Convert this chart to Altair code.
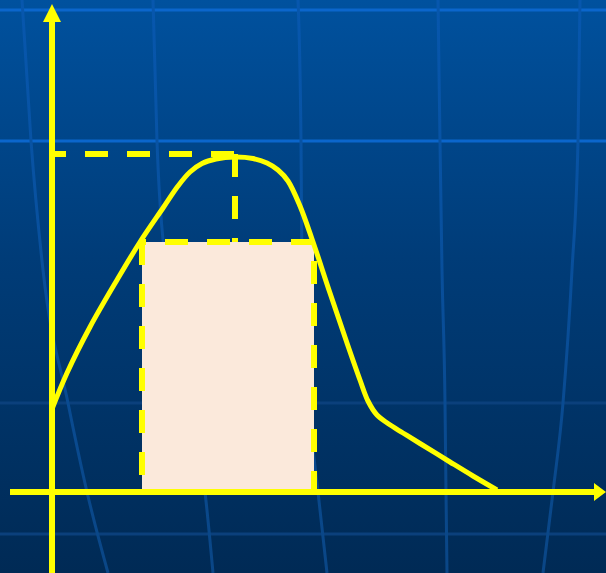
import altair as alt
import pandas as pd

W, H = 606, 573

# Data frame extents (origin where the two axes cross)
X_DOMAIN = [-52, 554]
Y_DOMAIN = [-81, 492]

# Response curve
curve_x = [0, 15, 38, 65, 88, 111, 126, 138, 150, 164, 183, 201, 215, 226, 236, 248,
           260, 278, 295, 308, 316, 325, 336, 351, 368, 398, 421, 445]
curve_y = [83, 119, 165, 212, 250, 284, 306, 320, 328.5, 333, 335, 333.5, 329, 322, 311, 286,
           253, 199, 149, 112, 91, 77, 68.5, 59, 48.5, 30, 16, 2]

# Peak marker and the shaded block under the curve
peak_x, peak_y = 183, 338
block_x0, block_x1 = 90, 262
block_top = 250

# Axis extents
x_axis_from, x_axis_to = -42, 542
y_axis_from, y_axis_to = -81, 470
x_arrow_at = 548
y_arrow_at = 479

# Backdrop grid
grid_rows_bright = [482, 351]
grid_rows_dim = [89, -42]
grid_col_levels = [492, 351, 222, 89, 0, -81]
grid_cols = {
    "a": [-30, -21, -9, 16, 35, 56],
    "b": [101, 105, 114, 136, 153, 161],
    "c": [246, 249, 250, 257, 266, 275],
    "d": [386, 388, 390, 393, 394, 395],
    "e": [528, 526, 520, 511, 501, 491],
}

YELLOW = "#FFFF00"
DASH = [23, 19]

xs = alt.Scale(domain=X_DOMAIN, nice=False, zero=False)
ys = alt.Scale(domain=Y_DOMAIN, nice=False, zero=False)


def X(field, **kw):
    return alt.X(field, type="quantitative", scale=xs, axis=None, **kw)


def Y(field, **kw):
    return alt.Y(field, type="quantitative", scale=ys, axis=None, **kw)


def segments(x0, x1, y0, y1):
    return pd.DataFrame({"x0": x0, "x1": x1, "y0": y0, "y1": y1})


# Backdrop with vertical gradient
backdrop = alt.Chart(segments([X_DOMAIN[0]], [X_DOMAIN[1]], [Y_DOMAIN[0]], [Y_DOMAIN[1]])).mark_rect(
    color=alt.LinearGradient(
        gradient="linear", x1=0, x2=0, y1=0, y2=1,
        stops=[alt.GradientStop(color="#00519E", offset=0),
               alt.GradientStop(color="#003C78", offset=0.45),
               alt.GradientStop(color="#002A55", offset=1)],
    )
).encode(x=X("x0"), x2="x1", y=Y("y0"), y2="y1")

rows_bright = alt.Chart(pd.DataFrame({"y": grid_rows_bright})).mark_rule(
    color="#0B66CC", strokeWidth=3
).encode(y=Y("y"))

rows_dim = alt.Chart(pd.DataFrame({"y": grid_rows_dim})).mark_rule(
    color="#0B407C", strokeWidth=3
).encode(y=Y("y"))

col_records = []
for name, vals in grid_cols.items():
    for i, (gx, gy) in enumerate(zip(vals, grid_col_levels)):
        col_records.append({"col": name, "x": gx, "y": gy, "o": i})
cols = alt.Chart(pd.DataFrame(col_records)).mark_line(
    strokeWidth=3, interpolate="monotone",
    color=alt.LinearGradient(
        gradient="linear", x1=0, x2=0, y1=0, y2=1,
        stops=[alt.GradientStop(color="#0757AE", offset=0),
               alt.GradientStop(color="#0A4686", offset=1)],
    ),
).encode(x=X("x"), y=Y("y"), detail="col:N", order="o:Q")

# Shaded block with dashed border
block = alt.Chart(segments([block_x0], [block_x1], [0], [block_top])).mark_rect(
    fill="#FBE9DB", stroke=YELLOW, strokeWidth=6, strokeDash=DASH, strokeDashOffset=19
).encode(x=X("x0"), x2="x1", y=Y("y0"), y2="y1")

# Dashed guides to the peak
guide_h = alt.Chart(segments([0], [peak_x], [peak_y], [peak_y])).mark_rule(
    color=YELLOW, strokeWidth=6, strokeDash=DASH, strokeDashOffset=9
).encode(x=X("x0"), x2="x1", y=Y("y0"), y2="y1")

guide_v = alt.Chart(segments([peak_x], [peak_x], [peak_y], [block_top])).mark_rule(
    color=YELLOW, strokeWidth=6, strokeDash=DASH, strokeDashOffset=0
).encode(x=X("x0"), x2="x1", y=Y("y0"), y2="y1")

# Axes
axes = alt.Chart(segments([x_axis_from, 0], [x_axis_to, 0], [0, y_axis_from], [0, y_axis_to])).mark_rule(
    color=YELLOW, strokeWidth=6
).encode(x=X("x0"), x2="x1", y=Y("y0"), y2="y1")

arrow_up = alt.Chart(pd.DataFrame({"x": [0], "y": [y_arrow_at]})).mark_point(
    shape="M0,-1L1,1L-1,1Z", size=324, filled=True, color=YELLOW, opacity=1, strokeWidth=0
).encode(x=X("x"), y=Y("y"))

arrow_right = alt.Chart(pd.DataFrame({"x": [x_arrow_at], "y": [0]})).mark_point(
    shape="M0.67,0L-0.67,-1L-0.67,1Z", size=324, filled=True, color=YELLOW, opacity=1, strokeWidth=0
).encode(x=X("x"), y=Y("y"))

curve = alt.Chart(pd.DataFrame({"x": curve_x, "y": curve_y})).mark_line(
    color=YELLOW, strokeWidth=5, interpolate="catmull-rom"
).encode(x=X("x"), y=Y("y"))

chart = alt.layer(
    backdrop, rows_bright, rows_dim, cols, block, guide_h, guide_v, axes,
    arrow_up, arrow_right, curve
).properties(
    width=W, height=H, padding=0, autosize=alt.AutoSizeParams(type="none")
).configure_view(stroke=None)

chart.save("out.html", embed_options={"renderer": "svg", "actions": False})
